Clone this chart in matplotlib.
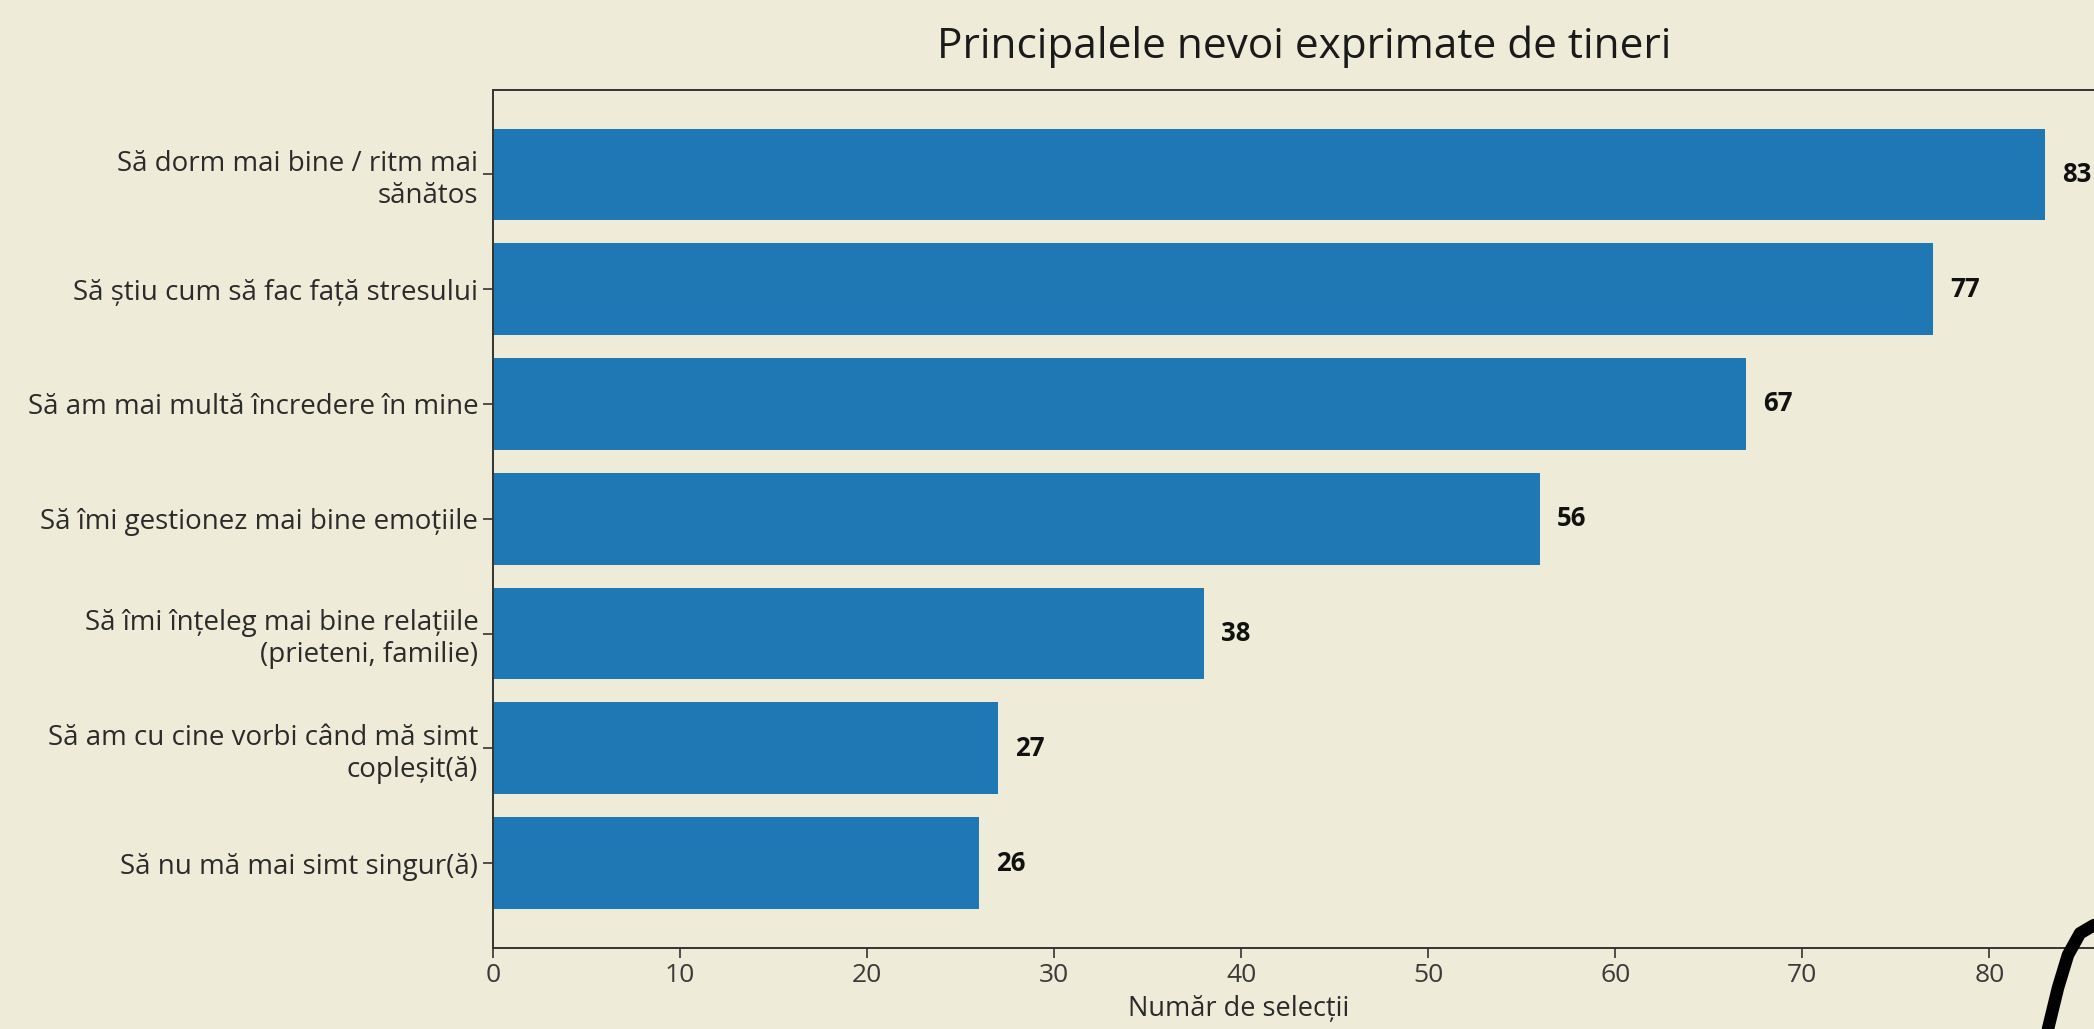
import matplotlib
matplotlib.use("Agg")
import matplotlib.pyplot as plt
from matplotlib.lines import Line2D

# data
categories = [
    "Să dorm mai bine / ritm mai\nsănătos",
    "Să știu cum să fac față stresului",
    "Să am mai multă încredere în mine",
    "Să îmi gestionez mai bine emoțiile",
    "Să îmi înțeleg mai bine relațiile\n(prieteni, familie)",
    "Să am cu cine vorbi când mă simt\ncopleșit(ă)",
    "Să nu mă mai simt singur(ă)",
]
counts = [83, 77, 67, 56, 38, 27, 26]
xticks = [0, 10, 20, 30, 40, 50, 60, 70, 80]

bg = "#EEEBD8"
blue = "#1f77b4"
txt = "#2b2b2b"

plt.rcParams["font.family"] = ["Open Sans", "DejaVu Sans"]

fig = plt.figure(figsize=(20.94, 10.29), dpi=100, facecolor=bg)
ax = fig.add_axes([0.2354, 0.0787, 0.7646, 0.8343], facecolor=bg)

ypos = list(range(len(categories)))
ax.barh(ypos, counts, height=0.8, color=blue)
ax.set_yticks(ypos)
ax.set_yticklabels(categories, fontsize=20, color=txt)
ax.invert_yaxis()
ax.set_xlim(0, 85.6)
ax.set_xticks(xticks)
ax.set_xticklabels([str(t) for t in xticks], fontsize=19, color="#3a3a3a")

for y, v in zip(ypos, counts):
    ax.text(v + 0.9, y, str(v), va="center", ha="left",
            fontsize=18.5, fontweight="bold", color="#111111")

ax.set_xlabel("Număr de selecții", fontsize=19.5, color=txt)
ax.xaxis.set_label_coords(0.466, -0.055)

for s in ["left", "bottom", "top"]:
    ax.spines[s].set_color("#333333")
    ax.spines[s].set_linewidth(1.4)
ax.spines["right"].set_visible(False)
ax.tick_params(axis="both", length=7, width=1.2, color="#333333")

fig.text(0.623, 0.955, "Principalele nevoi exprimate de tineri",
         ha="center", va="center", fontsize=30.5, color="#1a1a1a")

# decorative black stroke in the bottom-right corner
deco_x = [2048 / 2094, 2058 / 2094, 2068 / 2094, 2080 / 2094, 2094 / 2094]
deco_y = [0.0, 0.040, 0.072, 0.093, 0.101]
fig.add_artist(Line2D(deco_x, deco_y, color="black", linewidth=9,
                      solid_capstyle="round", transform=fig.transFigure))

fig.savefig("out.png", dpi=100, facecolor=bg)
